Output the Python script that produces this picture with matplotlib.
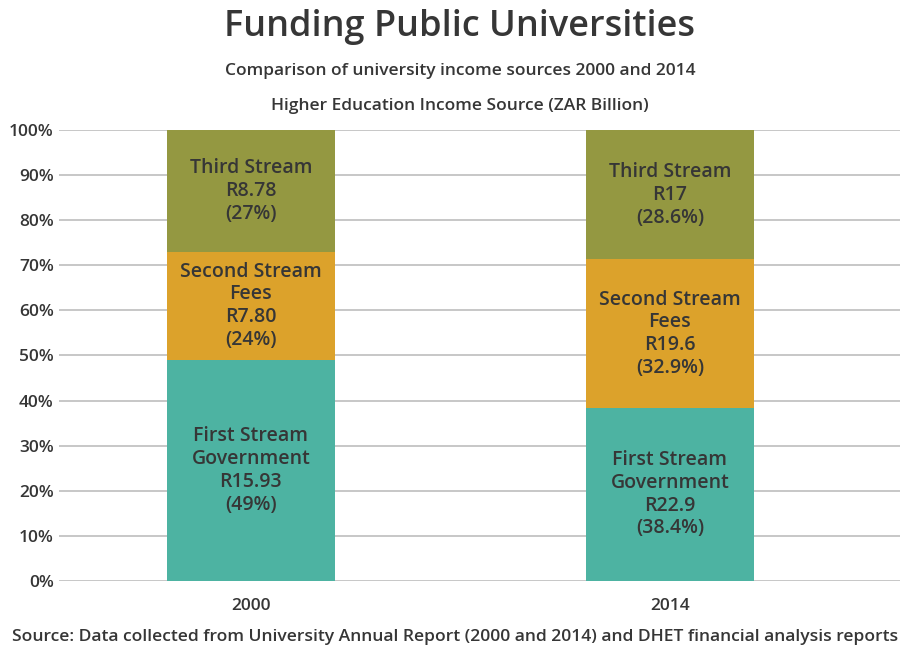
import numpy as np
import matplotlib.pyplot as plt
from matplotlib.ticker import PercentFormatter

plt.rcParams['font.family'] = ['Open Sans', 'DejaVu Sans']

# 数据
years = ['2000', '2014']
first_pct = [49, 38.4]
second_pct = [24, 32.9]
third_pct = [27, 28.6]
first_amt = ['R15.93', 'R22.9']
second_amt = ['R7.80', 'R19.6']
third_amt = ['R8.78', 'R17']

text_color = '#363636'
colors = ['#4db3a2', '#dca22b', '#949841']

fig = plt.figure(figsize=(9, 6.49), dpi=100)
ax = fig.add_axes([0.066, 0.1048, 0.934, 0.695])

x = np.arange(len(years))
w = 0.4
first = np.array(first_pct)
second = np.array(second_pct)
third = np.array(third_pct)

ax.bar(x, first, w, color=colors[0], zorder=3)
ax.bar(x, second, w, bottom=first, color=colors[1], zorder=3)
ax.bar(x, third, w, bottom=first + second, color=colors[2], zorder=3)

# 柱内标签
lbl = dict(ha='center', va='center', fontsize=14, color=text_color,
           fontweight='semibold', linespacing=1.18, zorder=4)
for i in range(len(years)):
    ax.text(x[i], first[i] / 2,
            'First Stream\nGovernment\n%s\n(%g%%)' % (first_amt[i], first_pct[i]), **lbl)
    ax.text(x[i], first[i] + second[i] / 2,
            'Second Stream\nFees\n%s\n(%g%%)' % (second_amt[i], second_pct[i]), **lbl)
    ax.text(x[i], first[i] + second[i] + third[i] / 2,
            'Third Stream\n%s\n(%g%%)' % (third_amt[i], third_pct[i]), **lbl)

ax.set_xlim(-0.457, 1.549)
ax.set_ylim(0, 100)
ax.set_yticks(np.arange(0, 101, 10))
ax.yaxis.set_major_formatter(PercentFormatter(decimals=0))
ax.set_xticks(x)
ax.set_xticklabels(years)
ax.tick_params(length=0, labelsize=12.5, labelcolor=text_color)
for t in ax.get_xticklabels() + ax.get_yticklabels():
    t.set_fontweight('semibold')
ax.tick_params(axis='x', pad=12)
ax.tick_params(axis='y', pad=4)
ax.grid(axis='y', color='#bdbdbd', linewidth=1.2, zorder=0)
for s in ax.spines.values():
    s.set_visible(False)

fig.text(0.511, 0.958, 'Funding Public Universities', ha='center', va='center',
         fontsize=26, fontweight='semibold', color=text_color)
fig.text(0.511, 0.891, 'Comparison of university income sources 2000 and 2014',
         ha='center', va='center', fontsize=12.5, fontweight='semibold', color=text_color)
fig.text(0.511, 0.837, 'Higher Education Income Source (ZAR Billion)',
         ha='center', va='center', fontsize=12.5, fontweight='semibold', color=text_color)
fig.text(0.013, 0.018, 'Source: Data collected from University Annual Report (2000 and 2014) '
         'and DHET financial analysis reports', ha='left', va='center',
         fontsize=12.6, fontweight='semibold', color=text_color)

plt.savefig('out.png', dpi=100)
